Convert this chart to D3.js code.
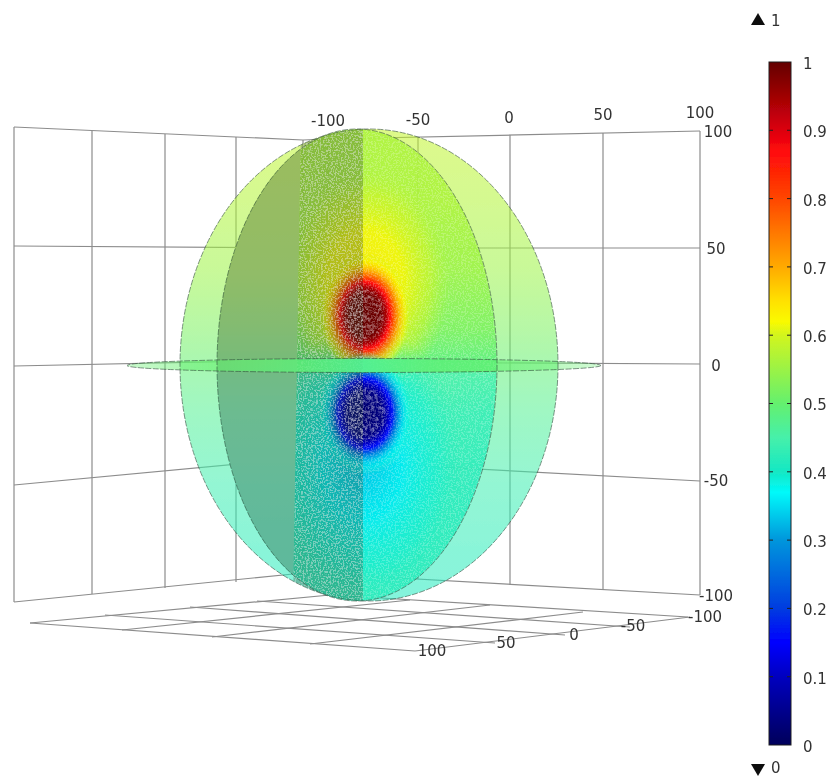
<!DOCTYPE html>
<html><head><meta charset="utf-8">
<script src="https://cdn.jsdelivr.net/npm/d3@7/dist/d3.min.js"></script>
<style>html,body{margin:0;background:#fff}svg{display:block}text{font-family:"DejaVu Sans",sans-serif;fill:#333}</style>
</head><body><svg id="c" width="835" height="776"></svg>
<script>
// ---- values ----
const rightAxisTicks=[-100,-50,0,50,100];
const leftAxisTicks=[-100,-50,0,50,100];
const heightTicks=[100,50,0,-50,-100];
const floorTicks=[100,50,0,-50,-100];
const legendTicks=[0,.1,.2,.3,.4,.5,.6,.7,.8,.9,1];
const legendStops=[0,.1,.15,.2,.3,.37,.4,.45,.5,.6,.62,.65,.7,.8,.87,.9,1];
const legendColors=["#00005a","#0000c0","#0000ff","#003ce0","#0096dc","#00fafa","#14e8c4","#46f0aa","#64f06e","#d2f51e","#fafa00","#ffe100","#ffaa00","#ff4600","#ff0a0a","#dc000a","#640000"];
// sample values of the field, by height (top to bottom of the sphere)
const sampleHeights=[100,70,40,15,2,-4,-20,-50,-100];
const shellValues=[.585,.57,.55,.52,.5,.49,.47,.44,.41];
const sliceValues=[.565,.565,.55,.52,.49,.45,.43,.42,.42];
const backValues=[.57,.56,.55,.52,.5,.48,.46,.44,.42];
const warmRing=[.64,.625,.6,.57];
const coolRing=[.33,.36,.39,.42];
const hotRing=[1,.99,.95,.87,.78,.69,.63,.58];
const coldRing=[.02,.04,.09,.16,.26,.34,.38,.41];

// ---- layout ----
const W={leftX:[14,92,165,236,303],rightX:[328,418,510,603,700]};
const leftEnds={"100":[127,140],"50":[246,248],"0":[366,360],"-50":[485,458],"-100":[602,573]};
const rightEnds={"100":[139,131],"50":[248,248],"0":[362,364],"-50":[461,481],"-100":[574,595]};
const leftTop=d3.scaleLinear().domain([14,92,165,236,303]).range([127,131,134,137,140]);
const leftBot=d3.scaleLinear().domain([14,92,165,236,303]).range([602,594,588,582,574]);
const rightTop=d3.scaleLinear().domain([328,700]).range([139,131]);
const rightBot=d3.scaleLinear().domain([328,452,510,603,700]).range([574,581,584,590,595]);
const leftScale=d3.scaleLinear().domain(leftAxisTicks).range(W.leftX);
const rightScale=d3.scaleLinear().domain(rightAxisTicks).range(W.rightX);
const yScreen=d3.scaleLinear().domain([100,-100]).range([129,601]);
const legendY=d3.scaleLinear().domain([0,1]).range([745,62]);
const color=d3.scaleLinear().domain(legendStops).range(legendColors).interpolate(d3.interpolateRgb);
// floor edges
const feLF=d3.scaleLinear().domain(floorTicks).range([415,310,212,122,30]);
const feLFy=d3.scaleLinear().domain(floorTicks).range([651,644,637,630,623]);
const feBR=d3.scaleLinear().domain(floorTicks).range([690,583,490,410,330]);
const feBRy=d3.scaleLinear().domain(floorTicks).range([617,612,605,600,595]);
const feFR=d3.scaleLinear().domain(floorTicks).range([415,495,565,630,688]);
const feFRy=d3.scaleLinear().domain(floorTicks).range([651,643,635,627,617]);
const feLB=d3.scaleLinear().domain(floorTicks).range([30,105,190,257,333]);
const feLBy=d3.scaleLinear().domain(floorTicks).range([623,615,607,601,595]);

const OUT={cx:369,cy:365,rx:189,ry:236}, INN={cx:357,cy:365,rx:140,ry:236}, DISC={cx:364,cy:365.5,rx:237,ry:7};
const svg=d3.select("#c"), defs=svg.append("defs");

function vGrad(id,heights,values,op){
  const g=defs.append("linearGradient").attr("id",id).attr("x1",0).attr("x2",0).attr("y1",0).attr("y2",1);
  heights.forEach((h,i)=>g.append("stop").attr("offset",(100-h)/200).attr("stop-color",color(values[i])).attr("stop-opacity",op));
}
vGrad("shell",sampleHeights,shellValues,.55);
vGrad("slice",sampleHeights,sliceValues,.88);
vGrad("back",sampleHeights,backValues,1);
function rGrad(id,vals,offsets,ops){
  const g=defs.append("radialGradient").attr("id",id);
  vals.forEach((v,i)=>g.append("stop").attr("offset",offsets[i]).attr("stop-color",color(v)).attr("stop-opacity",ops[i]));
}
rGrad("warm",warmRing,[0,.45,.78,1],[.95,.85,.5,0]);
rGrad("cool",coolRing,[0,.4,.75,1],[.95,.85,.5,0]);
rGrad("hot",hotRing,[0,.34,.44,.54,.64,.76,.88,1],[1,1,1,1,.92,.78,.5,0]);
rGrad("cold",coldRing,[0,.36,.46,.56,.66,.78,.88,1],[1,1,1,1,.92,.78,.5,0]);
const lg=defs.append("linearGradient").attr("id","legend").attr("x1",0).attr("x2",0).attr("y1",1).attr("y2",0);
legendStops.forEach((s,i)=>lg.append("stop").attr("offset",s).attr("stop-color",color(s)));
const dg=defs.append("linearGradient").attr("id","disc").attr("x1",0).attr("x2",1).attr("y1",0).attr("y2",0);
[[0,.5,.35],[.2,.5,.6],[.36,.49,.8],[.5,.47,.9],[.64,.49,.8],[.8,.5,.55],[1,.5,.3]].forEach(s=>dg.append("stop").attr("offset",s[0]).attr("stop-color",color(s[1])).attr("stop-opacity",s[2]));

const soft=defs.append("filter").attr("id","soft").attr("x","-5%").attr("y","-5%").attr("width","110%").attr("height","110%");
soft.append("feGaussianBlur").attr("stdDeviation",.5);
const softer=defs.append("filter").attr("id","txt");softer.append("feGaussianBlur").attr("stdDeviation",.3);
function speck(id,freq,k,c,seed){
  const f=defs.append("filter").attr("id",id).attr("filterUnits","userSpaceOnUse").attr("x",0).attr("y",0).attr("width",835).attr("height",776);
  f.append("feTurbulence").attr("type","fractalNoise").attr("baseFrequency",freq).attr("numOctaves",2).attr("seed",seed).attr("result","n");
  f.append("feColorMatrix").attr("in","n").attr("type","matrix").attr("values",`0 0 0 0 1  0 0 0 0 1  0 0 0 0 1  ${k} 0 0 0 ${c}`).attr("result","a");
  f.append("feGaussianBlur").attr("in","a").attr("stdDeviation",.5);
}
speck("spFine",.6,8,-3.9,3);
speck("spBig",.28,8,-4.0,8);
function clipE(id,e){defs.append("clipPath").attr("id",id).append("ellipse").attr("cx",e.cx).attr("cy",e.cy).attr("rx",e.rx).attr("ry",e.ry)}
clipE("cOut",OUT);clipE("cInn",INN);
const stripPts=[[301,125],[363,125],[363,605],[293,605]];
const backPts=[[200,125],[301,125],[293,605],[200,605]];
const sideLine=d3.line();
defs.append("clipPath").attr("id","cStrip").append("path").attr("d",sideLine(stripPts)+"Z").attr("clip-path","url(#cOut)");

// ---- walls & floor ----
const grid=svg.append("g").attr("filter","url(#soft)").attr("fill","none").attr("stroke","#8c8c8c").attr("stroke-width",1.2);
const seg=(a,b)=>grid.append("path").attr("d",sideLine([a,b]));
leftAxisTicks.forEach(t=>{const x=leftScale(t);seg([x,leftTop(x)],[x,leftBot(x)])});
rightAxisTicks.forEach(t=>{const x=rightScale(t);seg([x,rightTop(x)],[x,rightBot(x)])});
heightTicks.forEach(h=>{
  seg([14,leftEnds[h][0]],[303,leftEnds[h][1]]);
  seg([328,rightEnds[h][0]],[700,rightEnds[h][1]]);
  seg([303,leftEnds[h][1]],[328,rightEnds[h][0]]);
});
floorTicks.forEach(t=>{
  seg([feLF(t),feLFy(t)],[feBR(t),feBRy(t)]);
  seg([feLB(t),feLBy(t)],[feFR(t),feFRy(t)]);
});

// ---- sphere ----
const sph=svg.append("g").attr("filter","url(#soft)");
const ell=(p,e,fill)=>p.append("ellipse").attr("cx",e.cx).attr("cy",e.cy).attr("rx",e.rx).attr("ry",e.ry).attr("fill",fill);
ell(sph,OUT,"url(#shell)");
const inner=sph.append("g").attr("clip-path","url(#cInn)");
ell(inner,INN,"url(#slice)");
inner.append("ellipse").attr("cx",365).attr("cy",yScreen(35)).attr("rx",85).attr("ry",115).attr("fill","url(#warm)");
inner.append("ellipse").attr("cx",363).attr("cy",yScreen(-42)).attr("rx",100).attr("ry",140).attr("fill","url(#cool)");
inner.append("ellipse").attr("cx",365).attr("cy",yScreen(21)).attr("rx",46).attr("ry",62).attr("fill","url(#hot)");
inner.append("ellipse").attr("cx",365).attr("cy",yScreen(-20.5)).attr("rx",48).attr("ry",62).attr("fill","url(#cold)");
// seam where the disc cuts the slice
inner.append("rect").attr("x",217).attr("y",yScreen(2.2)).attr("width",280).attr("height",yScreen(-3)-yScreen(2.2)).attr("fill",color(.485)).attr("opacity",.88);
// fine speckle over the right half of the slice, and over the pole halos
inner.append("rect").attr("x",363).attr("y",125).attr("width",140).attr("height",480).attr("filter","url(#spFine)").attr("opacity",.22);
// shaded back half of the slice
inner.append("path").attr("d",sideLine(backPts)+"Z").attr("fill","url(#back)");
inner.append("path").attr("d",sideLine(backPts)+"Z").attr("fill","#8a8a84").attr("opacity",.52);
// dense vertical strip
const strip=sph.append("g").attr("clip-path","url(#cOut)").append("g").attr("clip-path","url(#cStrip)");
strip.append("rect").attr("x",290).attr("y",125).attr("width",75).attr("height",480).attr("fill","#24402c").attr("opacity",.3);
strip.append("rect").attr("x",290).attr("y",125).attr("width",75).attr("height",480).attr("filter","url(#spFine)").attr("opacity",.3);
// coarse speckle inside both poles
const hotSp=sph.append("g");
[[21,19,26],[-20.5,21,26]].forEach((d,i)=>{
  const id="cp"+i;
  defs.append("clipPath").attr("id",id).append("ellipse").attr("cx",365).attr("cy",yScreen(d[0])).attr("rx",d[1]).attr("ry",d[2]);
  hotSp.append("g").attr("clip-path",`url(#${id})`).append("rect").attr("x",310).attr("y",270).attr("width",110).attr("height",190).attr("filter","url(#spBig)").attr("opacity",.28);
});
// disc
ell(sph,DISC,"url(#disc)");
const edge=sph.append("g").attr("fill","none").attr("stroke","#2f4a3a").attr("stroke-width",.9).attr("stroke-dasharray","6 1.5").attr("opacity",.65);
ell(edge,OUT,"none");ell(edge,INN,"none");ell(edge,DISC,"none");

// ---- axis labels ----
const labels=svg.append("g").attr("filter","url(#txt)").attr("font-size",15).attr("text-anchor","middle");
const lab=(s,x,y)=>labels.append("text").attr("x",x).attr("y",y).attr("dy",".36em").text(s);
const topPos=d3.scaleLinear().domain(rightAxisTicks).range([328,418,509,603,700]);
const topY=d3.scaleLinear().domain(rightAxisTicks).range([121,120,118,115,113]);
rightAxisTicks.forEach(t=>lab(t,topPos(t),topY(t)));
const sideY=d3.scaleLinear().domain(heightTicks).range([132,249,366,481,596]);
const sideX=d3.scaleLinear().domain(heightTicks).range([718,716,716,716,716]);
heightTicks.forEach(t=>lab(t,sideX(t),sideY(t)));
const flX=d3.scaleLinear().domain(floorTicks).range([432,506,574,633,705]);
const flY=d3.scaleLinear().domain(floorTicks).range([651,643,635,626,617]);
floorTicks.forEach(t=>lab(t,flX(t),flY(t)));

// ---- colour legend ----
const leg=svg.append("g").attr("filter","url(#txt)");
leg.append("rect").attr("x",769).attr("y",62).attr("width",22).attr("height",683).attr("fill","url(#legend)").attr("stroke","#222").attr("stroke-width",1);
const ax=d3.axisRight(legendY).tickValues(legendTicks).tickFormat(d3.format(".1~f")).tickSize(0).tickPadding(12);
const ag=leg.append("g").attr("transform","translate(791,0)").call(ax);
ag.select(".domain").remove();
ag.selectAll("text").attr("font-size",15).attr("font-family",'"DejaVu Sans",sans-serif').attr("dy",".43em").attr("fill","#333");
legendTicks.slice(1,-1).forEach(t=>{
  leg.append("path").attr("d",sideLine([[769,legendY(t)],[773,legendY(t)]])).attr("stroke","#222");
  leg.append("path").attr("d",sideLine([[787,legendY(t)],[791,legendY(t)]])).attr("stroke","#222");
});
const tri=d3.symbol().type(d3.symbolTriangle).size(85);
leg.append("path").attr("d",tri()).attr("transform","translate(758,21)").attr("fill","#111");
leg.append("path").attr("d",tri()).attr("transform","translate(758,768) rotate(180)").attr("fill","#111");
leg.append("text").attr("x",771).attr("y",21).attr("dy",".36em").attr("font-size",15).text(d3.format(".0f")(legendY.domain()[1]));
leg.append("text").attr("x",771).attr("y",768).attr("dy",".36em").attr("font-size",15).text(d3.format(".0f")(legendY.domain()[0]));
</script></body></html>
